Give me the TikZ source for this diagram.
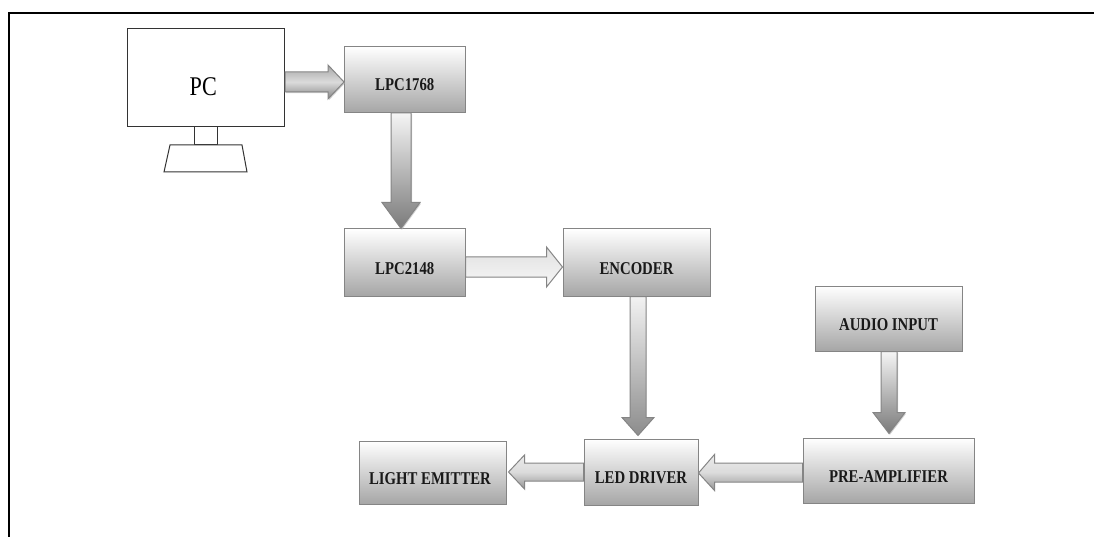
\documentclass[tikz,border=0pt]{standalone}
\usepackage{fontspec}
\setmainfont{Liberation Serif}[FakeStretch=0.82]
\usetikzlibrary{calc,shadows}
\tikzset{
  x=1pt,y=-1pt,
  blockbox/.style={rectangle,draw=black!48,line width=1pt,top color=white,bottom color=black!35,
    inner sep=0pt,font=\fontsize{18}{20}\selectfont\bfseries,text=black!90},
  plainline/.style={draw=black!80,line width=1pt},
  softshadow/.style={drop shadow={shadow xshift=1pt,shadow yshift=-1.2pt,fill=black!30,opacity=.6}},
  arrowlight/.style={draw=black!48,line width=1pt,top color=black!12,bottom color=black!3},
  arrowmid/.style={draw=black!48,line width=1pt,top color=black!5,bottom color=black!45},
  arrowside/.style={draw=black!48,line width=1pt,top color=black!8,bottom color=black!42,middle color=black!14},
  arrowdark/.style={draw=black!48,line width=1pt,top color=black!4,bottom color=black!52,softshadow},
  arrowpc/.style={draw=black!48,line width=1pt,top color=black!35,bottom color=black!48,middle color=black!14,softshadow},
}
% #1 style, #2 from, #3 to, #4 half shaft, #5 half head, #6 head length
\newcommand\harrow[6]{\path[#1] let \p1=(#2),\p2=(#3),\p3=($(#3)!#6pt!(#2)$) in
  (\x1,\y1+#4pt) -- (\x3,\y1+#4pt) -- (\x3,\y1+#5pt) -- (\x2,\y2) -- (\x3,\y1-#5pt) -- (\x3,\y1-#4pt) -- (\x1,\y1-#4pt) -- cycle;}
\newcommand\varrow[6]{\path[#1] let \p1=(#2),\p2=(#3),\p3=($(#3)!#6pt!(#2)$) in
  (\x1+#4pt,\y1) -- (\x1+#4pt,\y3) -- (\x1+#5pt,\y3) -- (\x2,\y2) -- (\x1-#5pt,\y3) -- (\x1-#4pt,\y3) -- (\x1-#4pt,\y1) -- cycle;}
\newcommand\blockat[5]{\node[blockbox,minimum width=#3pt,minimum height=#4pt] (#1) at (#2) {\raisebox{-11.5pt}[0pt][0pt]{#5}};}
\begin{document}
\begin{tikzpicture}
\useasboundingbox (0,0) rectangle (1094,537);
\fill[white] (0,0) rectangle (1094,537);
% page frame
\draw[black,line width=2pt] (9,537) -- (9,13) -- (1094,13);
% monitor
\node[draw=black!80,line width=1pt,fill=white,minimum width=157.5pt,minimum height=98pt,inner sep=0pt,
  font=\fontsize{27}{29}\selectfont] (pc) at (205.75,78) {\raisebox{-18pt}[0pt][0pt]{PC}\kern5pt};
\node[draw=black!80,line width=1pt,minimum width=23pt,minimum height=18pt,inner sep=0pt] (neck) at (205.5,136) {};
\draw[plainline,fill=white] (170,145) -- (242,145) -- (247,172) -- (164,172) -- cycle;
% blocks
\blockat{lpca}{404.75,79.5}{120.5}{66}{LPC1768}
\blockat{lpcb}{404.75,262.5}{120.5}{67}{LPC2148}
\blockat{enc}{636.5,262.5}{147}{67}{ENCODER}
\blockat{audio}{888.5,318.5}{147}{65}{AUDIO INPUT}
\blockat{pre}{888.5,470.5}{171}{65}{PRE-AMPLIFIER}
\blockat{led}{641,472}{114}{66}{LED DRIVER}
\blockat{light}{432.5,472.5}{147}{63}{LIGHT EMITTER\kern5pt}
% connectors
\harrow{arrowpc}{$(pc.east)+(0,4)$}{$(lpca.west)+(0,2.5)$}{10}{17}{16}
\varrow{arrowdark}{$(lpca.south)+(-3.75,0)$}{$(lpcb.north)+(-3.75,0)$}{10}{19}{26}
\harrow{arrowlight}{$(lpcb.east)+(0,4.5)$}{$(enc.west)+(0,4.5)$}{10}{20}{16}
\varrow{arrowmid}{$(enc.south)+(1.5,0)$}{$(led.north)+(-3,-3)$}{8}{16}{18}
\varrow{arrowdark}{$(audio.south)+(0.5,0)$}{$(pre.north)+(0.5,-4)$}{8}{16}{21}
\harrow{arrowside}{$(pre.west)+(0,2)$}{$(led.east)+(0,1)$}{9.5}{18}{16}
\harrow{arrowside}{$(led.west)+(0,0)$}{$(light.east)+(2,-0.5)$}{9}{17}{16}
\end{tikzpicture}
\end{document}
